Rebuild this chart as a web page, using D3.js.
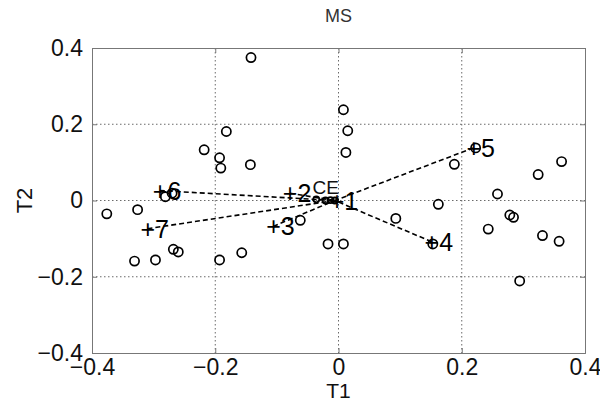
<!DOCTYPE html>
<html><head><meta charset="utf-8">
<script src="https://cdn.jsdelivr.net/npm/d3@7"></script>
<style>body{margin:0;background:#fff}svg{display:block}</style>
</head><body>
<script>
// ---- data ----
const title = "MS";
const xLabel = "T1", yLabel = "T2";
const xTicks = [-0.4, -0.2, 0, 0.2, 0.4];
const yTicks = [-0.4, -0.2, 0, 0.2, 0.4];
const pointsX = [-0.142,0.008,0.015,0.012,0.188,0.324,0.362,0.258,0.162,0.2225,0.093,0.153,0.243,0.278,0.284,0.331,0.358,0.294,0.008,-0.017,-0.376,-0.326,-0.331,-0.297,-0.268,-0.260,-0.193,-0.157,-0.062,-0.281,-0.218,-0.193,-0.191,-0.182,-0.143,-0.270];
const pointsY = [0.375,0.238,0.183,0.126,0.095,0.068,0.102,0.017,-0.010,0.138,-0.047,-0.114,-0.075,-0.038,-0.044,-0.092,-0.107,-0.211,-0.114,-0.114,-0.035,-0.024,-0.159,-0.156,-0.128,-0.135,-0.156,-0.137,-0.052,0.010,0.133,0.112,0.085,0.181,0.094,0.019];
const smallX = [-0.036,-0.021,-0.013,-0.006];
const smallY = [0.003,0.0,0.001,0.0];
const vecLabels = ["1","2","3","4","5","6","7"];
const vecX = [-0.003,-0.079,-0.106,0.151,0.219,-0.290,-0.310];
const vecY = [0.0,0.019,-0.068,-0.108,0.138,0.026,-0.074];
const centerX = -0.006, centerY = 0.0;
const ceLabel = "CE", ceX = -0.042, ceY = 0.036;

// ---- chart ----
const W = 600, H = 404;
const m = {l: 92, r: 15, t: 48, b: 51};
const svg = d3.select("body").append("svg").attr("width", W).attr("height", H)
  .style("font-family", "'Liberation Sans', Arial, sans-serif");
const x = d3.scaleLinear().domain([-0.4, 0.4]).range([m.l, W - m.r]);
const y = d3.scaleLinear().domain([-0.4, 0.4]).range([H - m.b, m.t]);
const fmt = d => d === 0 ? "0" : d3.format("")(+d.toFixed(1));

// grid
const g = svg.append("g");
g.selectAll(".gx").data(xTicks.slice(1, -1)).join("line")
  .attr("x1", d => x(d)).attr("x2", d => x(d)).attr("y1", y(0.4)).attr("y2", y(-0.4))
  .attr("stroke", "#444").attr("stroke-width", 0.8).attr("stroke-dasharray", "1.5,2.5");
g.selectAll(".gy").data(yTicks.slice(1, -1)).join("line")
  .attr("y1", d => y(d)).attr("y2", d => y(d)).attr("x1", x(-0.4)).attr("x2", x(0.4))
  .attr("stroke", "#444").attr("stroke-width", 0.8).attr("stroke-dasharray", "1.5,2.5");

// axes
const axB = d3.axisBottom(x).tickValues(xTicks).tickFormat(fmt).tickSize(-5).tickPadding(6);
const axL = d3.axisLeft(y).tickValues(yTicks).tickFormat(fmt).tickSize(-5).tickPadding(9);
const axT = d3.axisTop(x).tickValues(xTicks).tickFormat("").tickSize(-5);
const axR = d3.axisRight(y).tickValues(yTicks).tickFormat("").tickSize(-5);
function style(sel) {
  sel.selectAll("path").attr("stroke", "#777");
  sel.selectAll("line").attr("stroke", "#777");
  sel.selectAll("text").attr("fill", "#111").style("font-size", "23px");
}
svg.append("g").attr("transform", `translate(0,${y(-0.4)})`).call(axB).call(style);
svg.append("g").attr("transform", `translate(${x(-0.4)},0)`).call(axL).call(style);
svg.append("g").attr("transform", `translate(0,${y(0.4)})`).call(axT).call(style);
svg.append("g").attr("transform", `translate(${x(0.4)},0)`).call(axR).call(style);
svg.selectAll(".domain").attr("stroke", "#777");

// vectors
svg.append("g").selectAll("line").data(vecLabels).join("line")
  .attr("x1", (d, i) => x(vecX[i])).attr("y1", (d, i) => y(vecY[i]))
  .attr("x2", x(centerX)).attr("y2", y(centerY))
  .attr("stroke", "#000").attr("stroke-width", 1.6).attr("stroke-dasharray", "5,3");

// circles
svg.append("g").selectAll("circle").data(pointsX).join("circle")
  .attr("cx", d => x(d)).attr("cy", (d, i) => y(pointsY[i])).attr("r", 4.6)
  .attr("fill", "none").attr("stroke", "#000").attr("stroke-width", 1.7);
svg.append("g").selectAll("circle").data(smallX).join("circle")
  .attr("cx", d => x(d)).attr("cy", (d, i) => y(smallY[i])).attr("r", 3)
  .attr("fill", "none").attr("stroke", "#000").attr("stroke-width", 1.8);

// vector labels
svg.append("g").selectAll("text").data(vecLabels).join("text")
  .attr("x", (d, i) => x(vecX[i]) - 7).attr("y", (d, i) => y(vecY[i]))
  .attr("dy", "0.36em").style("font-size", "25px").attr("fill", "#000")
  .text(d => "+" + d);
svg.append("text").attr("x", x(ceX)).attr("y", y(ceY)).attr("dy", "0.36em")
  .style("font-size", "19px").attr("fill", "#111").text(ceLabel);

// titles
svg.append("text").attr("x", x(0)).attr("y", 22).attr("text-anchor", "middle")
  .style("font-size", "18px").attr("fill", "#333").text(title);
svg.append("text").attr("x", x(0)).attr("y", 398).attr("text-anchor", "middle")
  .style("font-size", "21px").attr("fill", "#111").text(xLabel);
svg.append("text").attr("transform", `translate(32,${y(0)}) rotate(-90)`).attr("text-anchor", "middle")
  .style("font-size", "22px").attr("fill", "#111").text(yLabel);
</script>
</body></html>
